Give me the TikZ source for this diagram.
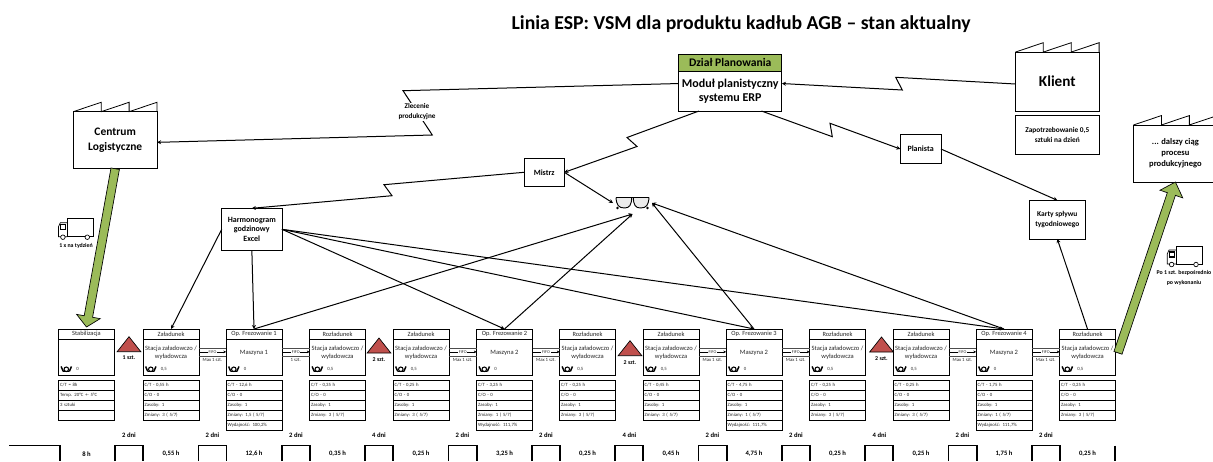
\documentclass[tikz,border=0pt]{standalone}
\usepackage{fontspec}
\setmainfont{Carlito}
\usetikzlibrary{positioning, arrows.meta, calc, shapes.multipart}

\definecolor{vsmgreen}{HTML}{9BBB59}
\definecolor{vsmred}{HTML}{C0504D}

\tikzset{
    % factory roof, three teeth from the north west corner
    roof/.pic={\draw[line width=.6pt] (0,0) -- (27.9,-9.4) -- (27.9,0) -- (55.8,-9.4) -- (55.8,0) -- (83.7,-9.4) -- (83.7,0);},
    stock/.pic={\draw[line width=.5pt, fill=vsmred] (0,0) -- (11.85,15) -- (-11.85,15) -- cycle;},
    % truck, origin at the top left corner of the load box
    truck/.pic={
        \draw[line width=.5pt] (0,0) rectangle (26.4,18);
        \draw[line width=.5pt] (0,4) -- (-7,4) -- (-8.8,8) -- (-8.8,18) -- (0,18);
        \draw[line width=.9pt] (-6.5,6) rectangle (-1.5,11);
        \draw[line width=.5pt, fill=white] (-4.4,18.5) circle (1.7pt);
        \draw[line width=.5pt, fill=white] (20,18.5) circle (1.7pt);
    },
    specs/.pic={
        \draw[line width=.7pt, fill=black!8] (-16.5,-5.5) -- (-.8,-5.5) .. controls (-1,2) and (-3,5) .. (-8,5) .. controls (-14,5) and (-16,2) .. (-16.5,-5.5);
        \draw[line width=.7pt, fill=black!8] (16.5,-5.5) -- (.8,-5.5) .. controls (1,2) and (3,5) .. (8,5) .. controls (14,5) and (16,2) .. (16.5,-5.5);
        \draw[line width=1.3pt] (-16.5,-5.5) -- (16.5,-5.5);
        \fill (-15,5) circle (1.1pt);
        \fill (15,5) circle (1.1pt);
    }
}

\begin{document}
\begin{tikzpicture}[
    x=.75pt, y=-.75pt,
    outer sep=0pt,
    headstyle/.style={draw, line width=.7pt, inner sep=0pt, minimum width=42pt, minimum height=7.5pt, font=\fontsize{4.8}{5.5}\selectfont, text=black!85},
    bodystyle/.style={draw, line width=.7pt, inner sep=0pt, minimum width=42pt, minimum height=27.5pt, align=center, text depth=8pt, font=\fontsize{4.9}{6}\selectfont, text=black!85},
    datastyle/.style={draw, line width=.6pt, rectangle split, rectangle split parts=#1, text width=39.5pt, inner xsep=1.25pt, inner ysep=1.2pt, align=left, font=\fontsize{3.6}{4.5}\selectfont, text=black!85},
    % post horn with its value on the right
    hornstyle/.style={inner sep=0pt, minimum width=12pt, minimum height=6pt,
        label={[font=\fontsize{3.6}{4.5}\selectfont, text=black!80, inner sep=1.5pt]right:#1},
        path picture={\begin{scope}[shift={(path picture bounding box.center)}]
            \draw[line width=.8pt] (0,0) circle (1.7pt);
            \draw[line width=1.1pt] (-5.2,-2.8) -- (-3,2.2);
            \draw[line width=1.1pt] (5.2,-2.8) -- (3,2.2);
            \draw[line width=.6pt] (-3,2.2) -- (3,2.2);
        \end{scope}}},
    boxstyle/.style={draw, line width=.6pt, inner sep=0pt, align=center, font=\bfseries\fontsize{6}{7.4}\selectfont},
    smallstyle/.style={inner sep=0pt, align=center, font=\bfseries\fontsize{4.4}{7}\selectfont},
    timestyle/.style={inner sep=0pt, font=\bfseries\fontsize{5}{6}\selectfont},
    fiforail/.style={line width=.7pt, draw=black!70},
    fifoarrow/.style={line width=.4pt, -{Stealth[length=2pt, width=2pt]}},
    fifotext/.style={inner sep=.6pt, fill=white, font=\fontsize{3.2}{4}\selectfont, text=black!80},
    maxtext/.style={inner sep=0pt, font=\fontsize{3.6}{4.5}\selectfont, text=black!85},
    flow/.style={line width=.75pt, -{Stealth[length=3pt, width=3pt]}},
    fatarrow/.style={line width=.5pt, fill=vsmgreen}
]
\useasboundingbox (0,0) rectangle (1213,461);

% Title
\node (title) [inner sep=0pt, font=\bfseries\fontsize{14.8}{16}\selectfont] at (741,24) {Linia ESP: VSM dla produktu kadłub AGB – stan aktualny};

% Planning department
\node (plan_head) [draw, line width=.7pt, fill=vsmgreen, inner sep=0pt, minimum width=77.6pt, minimum height=12.75pt, font=\bfseries\fontsize{8.7}{10}\selectfont] at (730.2,62.5) {Dział Planowania};
\node (plan_body) [draw, line width=.7pt, inner sep=0pt, minimum width=77.6pt, minimum height=30pt, align=center, font=\bfseries\fontsize{9}{10.7}\selectfont, below=0pt of plan_head] {Moduł planistyczny\\systemu ERP};

% Factories
\node (klient) [boxstyle, minimum width=62.8pt, minimum height=44.3pt, font=\bfseries\fontsize{11.4}{13}\selectfont] at (1057.3,81.6) {Klient};
\pic at (klient.north west) {roof};
\node (klient_info) [boxstyle, minimum width=62.8pt, minimum height=29.5pt, font=\bfseries\fontsize{5.5}{8}\selectfont, below=3pt of klient] {Zapotrzebowanie 0,5\\sztuki na dzień};
\node (centrum) [boxstyle, minimum width=62.8pt, minimum height=42.8pt, font=\bfseries\fontsize{8.6}{10.6}\selectfont] at (115.2,140.2) {Centrum\\Logistyczne};
\pic at (centrum.north west) {roof};
\node (next_plant) [boxstyle, minimum width=62.8pt, minimum height=42.8pt, font=\bfseries\fontsize{6.4}{8.3}\selectfont] at (1175.4,153.5) {... dalszy ciąg\\procesu\\produkcyjnego};
\pic at (next_plant.north west) {roof};

% Control boxes
\node (mistrz) [boxstyle] [minimum width=30.2pt, minimum height=21pt] at (544.2,172.3) {Mistrz};
\node (harm) [boxstyle, minimum width=45.2pt, minimum height=31.5pt] at (251.85,229.3) {Harmonogram\\godzinowy\\Excel};
\node (planista) [boxstyle, minimum width=30.5pt, minimum height=21.2pt] at (920.6,149) {Planista};
\node (karty) [boxstyle, minimum width=42pt, minimum height=29pt, font=\bfseries\fontsize{5.6}{8}\selectfont] at (1057.3,219.6) {Karty spływu\\tygodniowego};
\node (glasses) [inner sep=0pt, minimum width=29.25pt, minimum height=16.5pt] at (632.5,203) {};
\pic at (glasses) {specs};

% Trucks
\pic at (67.3,218.7) {truck};
\node (truck1_label) [smallstyle] at (76,246) {1 x na tydzień};
\pic at (1176,246) {truck};
\node (truck2_label) [smallstyle] at (1184,278) {Po 1 szt. bezpośrednio\\po wykonaniu};

% Stabilizacja
\node (stab_head) [headstyle] at (86.5,334) {Stabilizacja};
\node (stab_body) [bodystyle, below=0pt of stab_head] {};
\node (stab_horn) [hornstyle=0] at ([shift={(7.8,-6.4)}]stab_body.south west) {};
\node (stab_data) [datastyle=4, below=3.2pt of stab_body] {\strut C/T = 8h\nodepart{two}\strut Temp. 20°C +- 5°C\nodepart{three}\strut 3 sztuki\nodepart{four}\strut};

% Zaladunek 1
\node (zal1_head) [headstyle] at (171,334) {Załadunek};
\node (zal1_body) [bodystyle, below=0pt of zal1_head] {Stacja załadowczo /\\wyładowcza};
\node (zal1_horn) [hornstyle={0,5}] at ([shift={(7.8,-6.4)}]zal1_body.south west) {};
\node (zal1_data) [datastyle=4, below=3.2pt of zal1_body] {\strut C/T - 0,55 h\nodepart{two}\strut C/O - 0\nodepart{three}\strut Zasoby: 1\nodepart{four}\strut Zmiany: 3 ( 5/7)};

% Frezowanie 1
\node (op1_head) [headstyle] at (254,334) {Op. Frezowanie 1};
\node (op1_body) [bodystyle, below=0pt of op1_head] {Maszyna 1};
\node (op1_horn) [hornstyle=0] at ([shift={(7.8,-6.4)}]op1_body.south west) {};
\node (op1_data) [datastyle=5, below=3.2pt of op1_body] {\strut C/T - 12,6 h\nodepart{two}\strut C/O - 0\nodepart{three}\strut Zasoby: 1\nodepart{four}\strut Zmiany: 1,5 ( 5/7)\nodepart{five}\strut Wydajność: 100,2\%};

% Rozladunek 1
\node (roz1_head) [headstyle] at (337.5,334) {Rozładunek};
\node (roz1_body) [bodystyle, below=0pt of roz1_head] {Stacja załadowczo /\\wyładowcza};
\node (roz1_horn) [hornstyle={0,5}] at ([shift={(7.8,-6.4)}]roz1_body.south west) {};
\node (roz1_data) [datastyle=4, below=3.2pt of roz1_body] {\strut C/T - 0,35 h\nodepart{two}\strut C/O - 0\nodepart{three}\strut Zasoby: 1\nodepart{four}\strut Zmiany: 3 ( 5/7)};

% Zaladunek 2
\node (zal2_head) [headstyle] at (421,334) {Załadunek};
\node (zal2_body) [bodystyle, below=0pt of zal2_head] {Stacja załadowczo /\\wyładowcza};
\node (zal2_horn) [hornstyle={0,5}] at ([shift={(7.8,-6.4)}]zal2_body.south west) {};
\node (zal2_data) [datastyle=4, below=3.2pt of zal2_body] {\strut C/T - 0,25 h\nodepart{two}\strut C/O - 0\nodepart{three}\strut Zasoby: 1\nodepart{four}\strut Zmiany: 3 ( 5/7)};

% Frezowanie 2
\node (op2_head) [headstyle] at (504.5,334) {Op. Frezowanie 2};
\node (op2_body) [bodystyle, below=0pt of op2_head] {Maszyna 2};
\node (op2_horn) [hornstyle=0] at ([shift={(7.8,-6.4)}]op2_body.south west) {};
\node (op2_data) [datastyle=5, below=3.2pt of op2_body] {\strut C/T - 3,25 h\nodepart{two}\strut C/O - 0\nodepart{three}\strut Zasoby: 1\nodepart{four}\strut Zmiany: 1 ( 5/7)\nodepart{five}\strut Wydajność: 111,7\%};

% Rozladunek 2
\node (roz2_head) [headstyle] at (587.5,334) {Rozładunek};
\node (roz2_body) [bodystyle, below=0pt of roz2_head] {Stacja załadowczo /\\wyładowcza};
\node (roz2_horn) [hornstyle={0,5}] at ([shift={(7.8,-6.4)}]roz2_body.south west) {};
\node (roz2_data) [datastyle=4, below=3.2pt of roz2_body] {\strut C/T - 0,25 h\nodepart{two}\strut C/O - 0\nodepart{three}\strut Zasoby: 1\nodepart{four}\strut Zmiany: 3 ( 5/7)};

% Zaladunek 3
\node (zal3_head) [headstyle] at (671,334) {Załadunek};
\node (zal3_body) [bodystyle, below=0pt of zal3_head] {Stacja załadowczo /\\wyładowcza};
\node (zal3_horn) [hornstyle={0,5}] at ([shift={(7.8,-6.4)}]zal3_body.south west) {};
\node (zal3_data) [datastyle=4, below=3.2pt of zal3_body] {\strut C/T - 0,45 h\nodepart{two}\strut C/O - 0\nodepart{three}\strut Zasoby: 1\nodepart{four}\strut Zmiany: 3 ( 5/7)};

% Frezowanie 3
\node (op3_head) [headstyle] at (754,334) {Op. Frezowanie 3};
\node (op3_body) [bodystyle, below=0pt of op3_head] {Maszyna 2};
\node (op3_horn) [hornstyle=0] at ([shift={(7.8,-6.4)}]op3_body.south west) {};
\node (op3_data) [datastyle=5, below=3.2pt of op3_body] {\strut C/T - 4,75 h\nodepart{two}\strut C/O - 0\nodepart{three}\strut Zasoby: 1\nodepart{four}\strut Zmiany: 1 ( 5/7)\nodepart{five}\strut Wydajność: 111,7\%};

% Rozladunek 3
\node (roz3_head) [headstyle] at (837.5,334) {Rozładunek};
\node (roz3_body) [bodystyle, below=0pt of roz3_head] {Stacja załadowczo /\\wyładowcza};
\node (roz3_horn) [hornstyle={0,5}] at ([shift={(7.8,-6.4)}]roz3_body.south west) {};
\node (roz3_data) [datastyle=4, below=3.2pt of roz3_body] {\strut C/T - 0,25 h\nodepart{two}\strut C/O - 0\nodepart{three}\strut Zasoby: 1\nodepart{four}\strut Zmiany: 3 ( 5/7)};

% Zaladunek 4
\node (zal4_head) [headstyle] at (921,334) {Załadunek};
\node (zal4_body) [bodystyle, below=0pt of zal4_head] {Stacja załadowczo /\\wyładowcza};
\node (zal4_horn) [hornstyle={0,5}] at ([shift={(7.8,-6.4)}]zal4_body.south west) {};
\node (zal4_data) [datastyle=4, below=3.2pt of zal4_body] {\strut C/T - 0,25 h\nodepart{two}\strut C/O - 0\nodepart{three}\strut Zasoby: 1\nodepart{four}\strut Zmiany: 3 ( 5/7)};

% Frezowanie 4
\node (op4_head) [headstyle] at (1004,334) {Op. Frezowanie 4};
\node (op4_body) [bodystyle, below=0pt of op4_head] {Maszyna 2};
\node (op4_horn) [hornstyle=0] at ([shift={(7.8,-6.4)}]op4_body.south west) {};
\node (op4_data) [datastyle=5, below=3.2pt of op4_body] {\strut C/T - 1,75 h\nodepart{two}\strut C/O - 0\nodepart{three}\strut Zasoby: 1\nodepart{four}\strut Zmiany: 1 ( 5/7)\nodepart{five}\strut Wydajność: 111,7\%};

% Rozladunek 4
\node (roz4_head) [headstyle] at (1087.5,334) {Rozładunek};
\node (roz4_body) [bodystyle, below=0pt of roz4_head] {Stacja załadowczo /\\wyładowcza};
\node (roz4_horn) [hornstyle={0,5}] at ([shift={(7.8,-6.4)}]roz4_body.south west) {};
\node (roz4_data) [datastyle=4, below=3.2pt of roz4_body] {\strut C/T - 0,25 h\nodepart{two}\strut C/O - 0\nodepart{three}\strut Zasoby: 1\nodepart{four}\strut Zmiany: 3 ( 5/7)};

% Stock triangles
\pic at (129,336.7) {stock};
\node (stock1) [smallstyle] at (129,358) {1 szt.};
\pic at (379,338) {stock};
\node (stock2) [smallstyle] at (379,360) {2 szt.};
\pic at (630,340.7) {stock};
\node (stock3) [smallstyle] at (630,363) {2 szt.};
\pic at (881.5,337) {stock};
\node (stock4) [smallstyle] at (881.5,359) {2 szt.};

% FIFO lanes
\draw[fiforail] ([yshift=7pt]zal1_body.east) -- ([yshift=7pt]op1_body.west) ([yshift=1pt]zal1_body.east) -- node[maxtext, yshift=-3.2pt] (max1) {Max 1 szt.} ([yshift=1pt]op1_body.west);
\draw[fifoarrow] ([yshift=4.1pt]zal1_body.east) -- node[fifotext] (fifo1) {FIFO} ([yshift=4.1pt]op1_body.west);
\draw[fiforail] ([yshift=7pt]op1_body.east) -- ([yshift=7pt]roz1_body.west) ([yshift=1pt]op1_body.east) -- node[maxtext, yshift=-3.2pt] (max2) {1 szt.} ([yshift=1pt]roz1_body.west);
\draw[fifoarrow] ([yshift=4.1pt]op1_body.east) -- node[fifotext] (fifo2) {FIFO} ([yshift=4.1pt]roz1_body.west);
\draw[fiforail] ([yshift=7pt]zal2_body.east) -- ([yshift=7pt]op2_body.west) ([yshift=1pt]zal2_body.east) -- node[maxtext, yshift=-3.2pt] (max3) {Max 1 szt.} ([yshift=1pt]op2_body.west);
\draw[fifoarrow] ([yshift=4.1pt]zal2_body.east) -- node[fifotext] (fifo3) {FIFO} ([yshift=4.1pt]op2_body.west);
\draw[fiforail] ([yshift=7pt]op2_body.east) -- ([yshift=7pt]roz2_body.west) ([yshift=1pt]op2_body.east) -- node[maxtext, yshift=-3.2pt] (max4) {Max 1 szt.} ([yshift=1pt]roz2_body.west);
\draw[fifoarrow] ([yshift=4.1pt]op2_body.east) -- node[fifotext] (fifo4) {FIFO} ([yshift=4.1pt]roz2_body.west);
\draw[fiforail] ([yshift=7pt]zal3_body.east) -- ([yshift=7pt]op3_body.west) ([yshift=1pt]zal3_body.east) -- node[maxtext, yshift=-3.2pt] (max5) {Max 1 szt.} ([yshift=1pt]op3_body.west);
\draw[fifoarrow] ([yshift=4.1pt]zal3_body.east) -- node[fifotext] (fifo5) {FIFO} ([yshift=4.1pt]op3_body.west);
\draw[fiforail] ([yshift=7pt]op3_body.east) -- ([yshift=7pt]roz3_body.west) ([yshift=1pt]op3_body.east) -- node[maxtext, yshift=-3.2pt] (max6) {Max 1 szt.} ([yshift=1pt]roz3_body.west);
\draw[fifoarrow] ([yshift=4.1pt]op3_body.east) -- node[fifotext] (fifo6) {FIFO} ([yshift=4.1pt]roz3_body.west);
\draw[fiforail] ([yshift=7pt]zal4_body.east) -- ([yshift=7pt]op4_body.west) ([yshift=1pt]zal4_body.east) -- node[maxtext, yshift=-3.2pt] (max7) {Max 1 szt.} ([yshift=1pt]op4_body.west);
\draw[fifoarrow] ([yshift=4.1pt]zal4_body.east) -- node[fifotext] (fifo7) {FIFO} ([yshift=4.1pt]op4_body.west);
\draw[fiforail] ([yshift=7pt]op4_body.east) -- ([yshift=7pt]roz4_body.west) ([yshift=1pt]op4_body.east) -- node[maxtext, yshift=-3.2pt] (max8) {Max 1 szt.} ([yshift=1pt]roz4_body.west);
\draw[fifoarrow] ([yshift=4.1pt]op4_body.east) -- node[fifotext] (fifo8) {FIFO} ([yshift=4.1pt]roz4_body.west);

% Lightning connectors from the planning module
\draw[flow] ([yshift=-1.8pt]klient.west) -- (895.7,77.3) -- (902.3,90) -- ([yshift=5.6pt]plan_body.east);
\draw[flow] ([yshift=5.6pt]plan_body.west) -- (403,90.7) -- (432.3,135) -- ([yshift=-1.6pt]centrum.east);
\draw[flow] ([xshift=-23.4pt]plan_body.south) -- (627,137.5) -- (637,146.5) -- (mistrz.east);
\draw[flow] ([xshift=23.4pt]plan_body.south) -- (832.3,136.7) -- (830,123.3) -- (planista.west);
\draw[flow] (mistrz.west) -- (384,184.7) -- (392,195.7) -- (harm.north);
\node (zlecenie) [smallstyle, fill=white, inner sep=1pt, font=\bfseries\fontsize{5.4}{7.5}\selectfont] at (417,112) {Zlecenie\\produkcyjne};

% Straight connectors
\draw[flow] (mistrz.east) -- (glasses.west);
\draw[flow] (planista.east) -- (karty.north);
\draw[flow] (roz4_head.north) -- (karty.south);
\draw[flow] (harm.west) -- (zal1_head.north);
\draw[flow] (harm.south) -- (op1_head.north);
\draw[flow] (harm.east) -- (op2_head.north);
\draw[flow] (harm.east) -- (op3_head.north);
\draw[flow] (harm.east) -- (op4_head.north);
\draw[flow] (op1_head.north) -- (glasses.south);
\draw[flow] (op2_head.north) -- (glasses.south);
\draw[flow] (op3_head.north) -- (glasses.east);
\draw[flow] (op4_head.north) -- (glasses.east);

% Green push arrows
\coordinate (feed_tip) at ([yshift=1.5pt]stab_head.north);
\coordinate (feed_neck) at ($(feed_tip)!8pt!(centrum.south)$);
\draw[fatarrow] ($(centrum.south)!3.2pt!90:(feed_tip)$) -- ($(feed_neck)!3.2pt!90:(feed_tip)$) -- ($(feed_neck)!9pt!90:(feed_tip)$) -- (feed_tip) -- ($(feed_neck)!9pt!-90:(feed_tip)$) -- ($(feed_neck)!3.2pt!-90:(feed_tip)$) -- ($(centrum.south)!3.2pt!-90:(feed_tip)$) -- cycle;
\coordinate (out_start) at ([shift={(2.5,-4.5)}]roz4_body.east);
\coordinate (out_neck) at ($(next_plant.south)!9.5pt!(out_start)$);
\draw[fatarrow] ($(out_start)!3.2pt!90:(next_plant.south)$) -- ($(out_neck)!3.2pt!90:(next_plant.south)$) -- ($(out_neck)!9pt!90:(next_plant.south)$) -- (next_plant.south) -- ($(out_neck)!9pt!-90:(next_plant.south)$) -- ($(out_neck)!3.2pt!-90:(next_plant.south)$) -- ($(out_start)!3.2pt!-90:(next_plant.south)$) -- cycle;

% Timeline
\draw[line width=.8pt] (9,445.7) -- (60,445.7) -- (60,461)
    (115,461) |- (143,445.7) -- (143,461)
    (198.7,461) |- (226.7,445.7) -- (226.7,461)
    (282,461) |- (310,445.7) -- (310,461)
    (365,461) |- (393,445.7) -- (393,461)
    (448.5,461) |- (477,445.7) -- (477,461)
    (532,461) |- (560,445.7) -- (560,461)
    (615,461) |- (643,445.7) -- (643,461)
    (698.5,461) |- (727,445.7) -- (727,461)
    (782,461) |- (810,445.7) -- (810,461)
    (865,461) |- (893,445.7) -- (893,461)
    (948.5,461) |- (977,445.7) -- (977,461)
    (1032,461) |- (1060,445.7) -- (1060,461)
    (1115,445.7) -- (1115,461);

% Waiting times
\node (wait1) [timestyle] at (129,435) {2 dni};
\node (wait2) [timestyle] at (212.5,435) {2 dni};
\node (wait3) [timestyle] at (296,435) {2 dni};
\node (wait4) [timestyle] at (379,435) {4 dni};
\node (wait5) [timestyle] at (462.5,435) {2 dni};
\node (wait6) [timestyle] at (546,435) {2 dni};
\node (wait7) [timestyle] at (629.5,435) {4 dni};
\node (wait8) [timestyle] at (712.5,435) {2 dni};
\node (wait9) [timestyle] at (796,435) {2 dni};
\node (wait10) [timestyle] at (879.5,435) {4 dni};
\node (wait11) [timestyle] at (962.5,435) {2 dni};
\node (wait12) [timestyle] at (1046,435) {2 dni};

% Cycle times
\node (time1) [timestyle] at (stab_head |- 0,454) {8 h};
\node (time2) [timestyle] at (zal1_head |- 0,454) {0,55 h};
\node (time3) [timestyle] at (op1_head |- 0,454) {12,6 h};
\node (time4) [timestyle] at (roz1_head |- 0,454) {0,35 h};
\node (time5) [timestyle] at (zal2_head |- 0,454) {0,25 h};
\node (time6) [timestyle] at (op2_head |- 0,454) {3,25 h};
\node (time7) [timestyle] at (roz2_head |- 0,454) {0,25 h};
\node (time8) [timestyle] at (zal3_head |- 0,454) {0,45 h};
\node (time9) [timestyle] at (op3_head |- 0,454) {4,75 h};
\node (time10) [timestyle] at (roz3_head |- 0,454) {0,25 h};
\node (time11) [timestyle] at (zal4_head |- 0,454) {0,25 h};
\node (time12) [timestyle] at (op4_head |- 0,454) {1,75 h};
\node (time13) [timestyle] at (roz4_head |- 0,454) {0,25 h};

\end{tikzpicture}
\end{document}
